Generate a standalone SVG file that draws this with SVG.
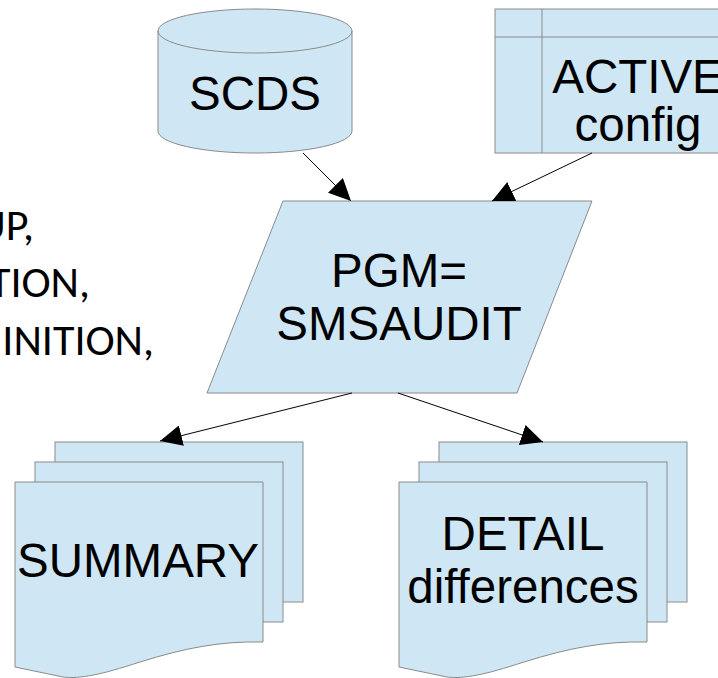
<svg xmlns="http://www.w3.org/2000/svg" xmlns:xlink="http://www.w3.org/1999/xlink" width="718" height="678" viewBox="0 0 718 678">
<style>
.shape{fill:#cfe7f5;stroke:#8a8a8a;stroke-width:1}
.line{fill:none;stroke:#8a8a8a;stroke-width:1}
.lbl{font-family:"Liberation Sans",Arial,sans-serif;font-size:47.5px;fill:#000;text-anchor:middle}
.note{font-family:Carlito,Lato,"Open Sans",sans-serif;font-size:44px;fill:#000;text-anchor:end}
.conn{stroke:#000;stroke-width:1;fill:none;marker-end:url(#arrow)}
</style>
<defs>
<marker id="arrow" markerUnits="userSpaceOnUse" markerWidth="22" markerHeight="21" refX="22" refY="10.5" orient="auto" viewBox="0 0 22 21">
<path d="M0,0 L22,10.5 L0,21 Z" fill="#000"/>
</marker>
<g id="docstack">
<rect class="shape" x="40" y="0" width="248" height="160"/>
<rect class="shape" x="20" y="20" width="248" height="160"/>
<path class="shape" d="M0,40 L248,40 L248,200 C205,199 170,206 125,220 C85,233 65,237 48,235 L0,225 Z"/>
</g>
</defs>
<rect width="718" height="678" fill="#fff"/>

<g id="notes">
<text class="note" x="34" y="240">UP,</text>
<text class="note" x="90" y="297">TION,</text>
<text class="note" x="154" y="355">NINITION,</text>
</g>

<g id="scds">
<path class="shape" d="M158,31 A97,22 0 0 1 352,31 L352,131 A97,22 0 0 1 158,131 Z"/>
<path class="line" d="M158,31 A97,22 0 0 0 352,31"/>
<text class="lbl" x="255" y="110">SCDS</text>
</g>

<g id="active-config">
<rect class="shape" x="495" y="9" width="290" height="144"/>
<line class="line" x1="542" y1="9" x2="542" y2="153"/>
<line class="line" x1="495" y1="37" x2="785" y2="37"/>
<text class="lbl" x="638" y="93">ACTIVE</text>
<text class="lbl" x="638" y="141">config</text>
</g>

<g id="smsaudit">
<path class="shape" d="M283,201 L592,201 L517,393 L207,393 Z"/>
<text class="lbl" x="399" y="287">PGM=</text>
<text class="lbl" x="399" y="340">SMSAUDIT</text>
</g>

<g id="summary">
<use xlink:href="#docstack" href="#docstack" transform="translate(15,442)"/>
<text class="lbl" x="138" y="577">SUMMARY</text>
</g>

<g id="detail">
<use xlink:href="#docstack" href="#docstack" transform="translate(399,442)"/>
<text class="lbl" x="523" y="550">DETAIL</text>
<text class="lbl" x="523" y="603">differences</text>
</g>

<g id="connectors">
<line class="conn" x1="303" y1="153" x2="351" y2="201"/>
<line class="conn" x1="592" y1="153" x2="492" y2="201"/>
<line class="conn" x1="352" y1="393" x2="160" y2="441"/>
<line class="conn" x1="398" y1="393" x2="543" y2="442"/>
</g>
</svg>
